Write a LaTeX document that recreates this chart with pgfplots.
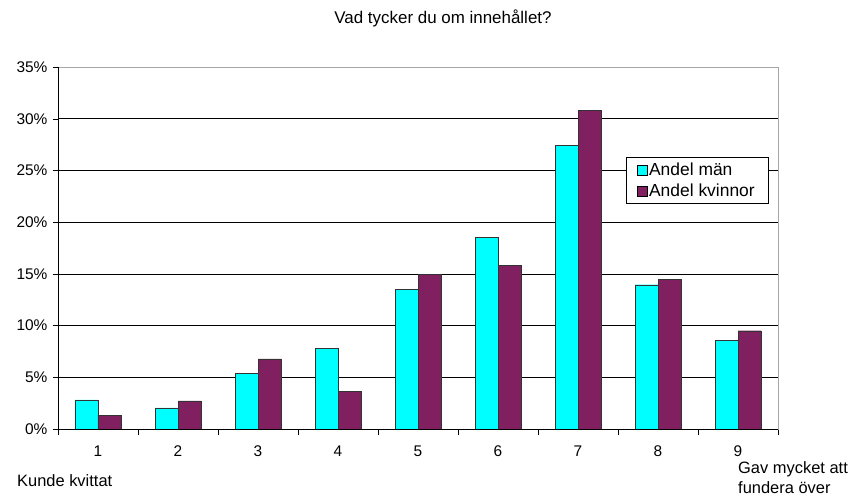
\documentclass[border=0pt]{standalone}
\usepackage{pgfplots}
\pgfplotsset{compat=1.18}
\usepackage{fontspec}
\setmainfont{Liberation Sans}
\definecolor{men}{RGB}{0,255,255}
\definecolor{women}{RGB}{128,32,96}
\begin{document}
\begin{tikzpicture}[x=1bp,y=1bp]
\begin{axis}[
  at={(0,0)}, anchor=south west,
  scale only axis, width=720bp, height=362bp,
  xmin=0.5, xmax=9.5, ymin=0, ymax=35,
  ybar, bar width=23bp,
  xtick={1,...,9},
  xticklabels={1,2,3,4,5,6,7,8,9},
  minor xtick={0.5,1.5,...,9.5},
  major x tick style={draw=none},
  minor x tick style={black},
  minor tick length=6bp,
  major tick length=5bp,
  tick align=outside,
  xtick pos=bottom, ytick pos=left,
  ytick={0,5,...,35},
  yticklabel={\pgfmathprintnumber{\tick}\%},
  ymajorgrids, grid style={black, line width=0.6pt},
  axis line style={gray!70, line width=0.8pt},
  tick style={black},
  /pgf/number format/assume math mode=true,
  ticklabel style={font=\fontsize{15.5}{17}\selectfont},
  xticklabel style={yshift=-8bp},
  yticklabel style={xshift=-2bp},
  legend style={at={(0.986,0.751)}, anchor=north east, draw=black, fill=white,
    font=\fontsize{17.5}{20}\selectfont, row sep=3bp, inner xsep=11bp, inner ysep=3.5bp,
    /tikz/every even column/.append style={column sep=0bp}},
  legend cell align=left,
  legend image code/.code={\draw[#1, draw=black] (3bp,-5bp) rectangle (13bp,5bp);},
  clip=false,
]
\addplot[fill=men, draw=black!80, bar shift=-11.5bp] coordinates {
 (1,2.82) (2,2.04) (3,5.35) (4,7.8) (5,13.5) (6,18.5) (7,27.45) (8,13.95) (9,8.57)};
\addplot[fill=women, draw=black!80, bar shift=11.5bp] coordinates {
 (1,1.33) (2,2.72) (3,6.78) (4,3.64) (5,14.95) (6,15.85) (7,30.8) (8,14.47) (9,9.5)};
\legend{Andel män, Andel kvinnor}
\draw[black, line width=0.8pt] (rel axis cs:0,1) -- (rel axis cs:0,0) -- (rel axis cs:1,0);
\end{axis}
\node[anchor=west, inner sep=0pt, font=\fontsize{16.5}{18}\selectfont] at (-41,-52) {Kunde kvittat};
\node[anchor=west, align=left, inner sep=0pt, font=\fontsize{16.5}{20}\selectfont] at (680,-49) {Gav mycket att\\fundera över};
\node[inner sep=0pt, font=\fontsize{17}{19}\selectfont] at (385,411) {Vad tycker du om innehållet?};
\pgfresetboundingbox
\path[use as bounding box] (-58,-68) rectangle (800,429);
\end{tikzpicture}
\end{document}
